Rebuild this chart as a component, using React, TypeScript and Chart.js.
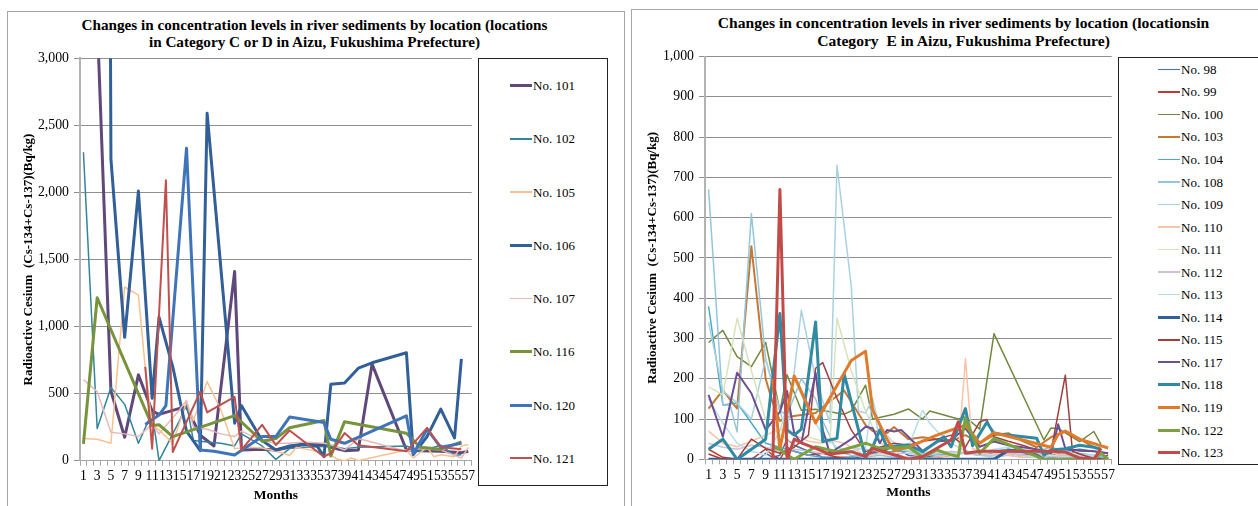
import React, { useEffect, useRef } from "react";
import { Chart, registerables } from "chart.js";
Chart.register(...registerables);

type Pt = [number, number];

const FONT = "'Liberation Serif', 'Times New Roman', serif";

const MONTHS = [
  "1", "2", "3", "4", "5", "6", "7", "8", "9", "10", "11", "12", "13", "14", "15", "16", "17", "18", "19",
  "20", "21", "22", "23", "24", "25", "26", "27", "28", "29", "30", "31", "32", "33", "34", "35", "36", "37", "38",
  "39", "40", "41", "42", "43", "44", "45", "46", "47", "48", "49", "50", "51", "52", "53", "54", "55", "56", "57",
];

const LEFT_TICKS = [0, 500, 1000, 1500, 2000, 2500, 3000];
const RIGHT_TICKS = [0, 100, 200, 300, 400, 500, 600, 700, 800, 900, 1000];

// ---------- Left chart (Category C or D) : [month, Bq/kg] ----------
const no101: Pt[] = [[3, 3300], [5, 520], [7, 175], [9, 640], [11, 370], [12, 345], [15, 390], [16, 400], [18, 190], [20, 110], [23, 1410], [24, 80], [27, 85], [29, 80], [31, 100], [33, 120], [36, 120], [37, 100], [39, 75], [41, 80], [43, 720], [48, 80], [50, 75], [53, 70], [56, 60], [57, 70]];
const no102: Pt[] = [[1, 2300], [3, 240], [5, 545], [7, 420], [9, 130], [11, 360], [12, 0], [15, 300], [16, 425], [17, 150], [19, 140], [21, 130], [23, 110], [24, 200], [27, 110], [29, 10], [31, 90], [33, 100], [36, 105], [37, 110], [39, 90], [41, 100], [48, 110], [50, 70], [53, 115], [55, 40], [56, 45]];
const no105: Pt[] = [[1, 165], [3, 160], [5, 130], [7, 1295], [9, 1235], [10, 690], [11, 270], [12, 230], [14, 130], [16, 440], [17, 300], [19, 590], [21, 380], [23, 90], [25, 100], [27, 95], [29, 70], [31, 40], [32, 100], [33, 90], [36, 60], [37, 40], [38, 10], [39, 0], [40, 20], [41, 0], [48, 80], [49, 20], [51, 100], [52, 30], [53, 45], [55, 30], [56, 110], [57, 120]];
const no106: Pt[] = [[4, 15000], [5, 2250], [7, 920], [9, 2010], [11, 465], [12, 1070], [14, 700], [16, 220], [18, 75], [19, 2590], [23, 280], [24, 410], [27, 150], [29, 80], [31, 110], [33, 125], [35, 110], [36, 30], [37, 570], [39, 580], [41, 690], [43, 730], [48, 805], [49, 45], [51, 180], [53, 385], [55, 170], [56, 760]];
const no107: Pt[] = [[1, 605], [3, 515], [5, 212], [7, 200], [9, 180], [11, 270], [12, 200], [15, 380], [16, 450], [17, 250], [19, 235], [21, 200], [23, 180], [24, 220], [27, 150], [29, 130], [31, 130], [33, 140], [36, 130], [37, 120], [39, 80], [41, 165], [48, 70], [50, 90], [53, 80], [55, 40], [56, 20], [57, 100]];
const no116: Pt[] = [[1, 125], [3, 1215], [11, 262], [12, 268], [14, 180], [23, 336], [27, 145], [29, 165], [31, 246], [36, 300], [37, 35], [39, 291], [48, 205], [50, 100], [53, 85], [56, 140]];
const no120: Pt[] = [[10, 270], [12, 340], [13, 410], [16, 2330], [18, 80], [20, 70], [23, 42], [27, 180], [29, 180], [31, 325], [36, 285], [37, 160], [39, 130], [48, 335], [49, 50], [51, 235], [53, 100], [55, 120], [56, 130]];
const no121: Pt[] = [[10, 700], [11, 90], [13, 2090], [14, 65], [18, 515], [19, 360], [23, 475], [24, 80], [27, 267], [29, 117], [31, 225], [36, 30], [37, 55], [39, 206], [41, 115], [48, 70], [51, 245], [53, 100], [56, 85]];

const LEFT_LABELS = ["No. 101", "No. 102", "No. 105", "No. 106", "No. 107", "No. 116", "No. 120", "No. 121"];
const LEFT_VALUES = [no101, no102, no105, no106, no107, no116, no120, no121];

// ---------- Right chart (Category E) ----------
const no98: Pt[] = [[1, 0], [5, 0], [8, 0], [9, 15], [10, 5], [11, 10], [12, 50], [13, 35], [15, 20], [17, 5], [19, 5], [21, 0], [23, 10], [25, 20], [27, 30], [29, 10], [31, 5], [33, 10], [35, 15], [37, 20], [39, 10], [41, 15], [43, 25], [45, 20], [47, 15], [49, 10], [51, 20], [53, 25], [55, 20], [57, 15]];
const no99: Pt[] = [[1, 25], [3, 5], [5, 0], [7, 0], [9, 25], [10, 10], [11, 0], [12, 30], [13, 20], [15, 10], [17, 15], [19, 5], [21, 5], [23, 10], [25, 25], [27, 15], [29, 0], [31, 0], [33, 5], [35, 10], [37, 20], [39, 15], [41, 20], [43, 15], [45, 10], [47, 15], [49, 20], [51, 15], [53, 5], [55, 0], [57, 10]];
const no100: Pt[] = [[1, 290], [3, 320], [5, 255], [7, 230], [9, 290], [11, 120], [12, 210], [14, 122], [16, 124], [18, 118], [20, 112], [21, 120], [23, 184], [24, 100], [27, 112], [29, 125], [31, 100], [32, 120], [36, 100], [37, 105], [39, 75], [41, 312], [48, 48], [49, 78], [50, 76], [53, 44], [55, 69], [56, 37]];
const no103: Pt[] = [[1, 126], [3, 172], [5, 126], [7, 529], [9, 200], [10, 140], [11, 95], [12, 105], [14, 110], [16, 115], [17, 130], [20, 171], [23, 85], [24, 70], [26, 65], [27, 80], [29, 50], [31, 55], [33, 50], [35, 45], [37, 60], [39, 40], [41, 60], [43, 65], [45, 45], [47, 30], [49, 55], [51, 70], [53, 50], [55, 30]];
const no104: Pt[] = [[1, 380], [3, 135], [5, 140], [7, 90], [9, 40], [11, 30], [13, 20], [15, 10], [17, 5], [19, 0], [21, 5], [23, 10], [25, 15], [27, 20], [29, 20], [31, 15], [33, 10], [35, 10], [37, 20], [39, 15], [41, 20], [43, 25], [45, 20], [47, 15], [49, 5], [51, 10], [53, 10], [55, 5], [57, 5]];
const no108: Pt[] = [[1, 670], [3, 135], [4, 135], [5, 68], [7, 610], [9, 250], [11, 120], [12, 110], [14, 200], [16, 150], [17, 95], [19, 20], [21, 10], [23, 5], [25, 10], [27, 5], [29, 5], [31, 10], [33, 15], [35, 15], [37, 15], [39, 10], [41, 20], [43, 20], [45, 15], [47, 20], [49, 30], [51, 20], [53, 15], [55, 10], [57, 5]];
const no109: Pt[] = [[1, 340], [3, 170], [5, 140], [7, 100], [9, 250], [10, 180], [12, 60], [14, 370], [16, 200], [18, 90], [19, 730], [21, 430], [22, 120], [23, 115], [24, 150], [25, 40], [27, 30], [29, 20], [31, 15], [33, 10], [35, 10], [37, 15], [39, 10], [41, 5], [43, 10], [45, 5], [47, 5], [49, 10], [51, 5], [53, 5], [55, 5], [57, 0]];
const no110: Pt[] = [[1, 70], [3, 40], [5, 31], [7, 45], [9, 60], [11, 75], [13, 60], [15, 45], [17, 40], [18, 48], [20, 40], [22, 20], [23, 7], [25, 15], [27, 10], [29, 5], [31, 0], [33, 5], [35, 10], [36, 15], [37, 250], [38, 27], [39, 20], [41, 15], [43, 10], [45, 5], [47, 10], [49, 15], [51, 10], [53, 5], [55, 5]];
const no111: Pt[] = [[1, 180], [3, 160], [5, 350], [7, 220], [9, 98], [11, 60], [13, 40], [15, 55], [17, 45], [18, 40], [19, 350], [21, 220], [23, 120], [25, 40], [27, 30], [29, 25], [31, 20], [33, 15], [35, 15], [37, 20], [39, 15], [41, 10], [43, 15], [45, 10], [47, 5], [49, 10], [51, 5], [53, 5], [55, 5]];
const no112: Pt[] = [[1, 40], [3, 30], [5, 25], [7, 35], [9, 30], [11, 20], [13, 25], [15, 20], [17, 15], [19, 20], [21, 30], [23, 25], [25, 20], [27, 15], [29, 15], [31, 10], [33, 15], [35, 20], [37, 15], [39, 10], [41, 10], [43, 15], [45, 10], [47, 10], [49, 5], [51, 10], [53, 5], [55, 5]];
const no113: Pt[] = [[1, 150], [3, 90], [5, 40], [7, 20], [9, 10], [11, 70], [13, 200], [15, 120], [17, 60], [19, 30], [21, 20], [23, 30], [24, 150], [25, 80], [27, 40], [29, 30], [31, 122], [32, 90], [33, 70], [35, 40], [37, 20], [39, 15], [41, 25], [43, 30], [45, 25], [47, 15], [49, 20], [51, 15], [53, 10], [55, 10]];
const no114: Pt[] = [[1, 0], [41, 0], [43, 22], [45, 20], [47, 10], [48, 0], [53, 0], [55, 0], [56, 0]];
const no115: Pt[] = [[1, 13], [3, 0], [5, 0], [7, 50], [9, 27], [11, 15], [13, 30], [15, 60], [16, 226], [17, 240], [19, 151], [21, 73], [23, 19], [25, 30], [27, 40], [29, 35], [31, 45], [33, 50], [35, 60], [37, 30], [39, 93], [40, 99], [41, 56], [43, 45], [45, 35], [47, 23], [49, 20], [51, 209], [52, 20], [53, 13], [55, 2], [57, 0]];
const no117: Pt[] = [[1, 160], [3, 56], [5, 215], [7, 164], [9, 73], [11, 118], [12, 170], [13, 64], [14, 40], [16, 215], [17, 73], [18, 15], [21, 50], [23, 81], [24, 77], [25, 40], [26, 73], [27, 69], [28, 73], [29, 56], [31, 21], [33, 44], [35, 48], [37, 77], [39, 31], [41, 44], [43, 35], [45, 30], [47, 25], [49, 15], [50, 87], [51, 27], [53, 21], [55, 20], [57, 15]];
const no118: Pt[] = [[1, 25], [3, 50], [5, 0], [9, 50], [11, 362], [12, 73], [13, 60], [14, 75], [16, 341], [17, 44], [19, 52], [20, 212], [23, 5], [24, 31], [25, 73], [26, 30], [29, 36], [31, 19], [34, 56], [35, 31], [37, 126], [38, 34], [40, 92], [41, 64], [47, 52], [48, 10], [49, 23], [51, 26], [53, 35], [55, 30], [56, 25]];
const no119: Pt[] = [[10, 200], [11, 25], [13, 207], [16, 90], [21, 245], [23, 268], [24, 122], [26, 50], [27, 22], [29, 30], [31, 45], [33, 60], [37, 85], [39, 40], [41, 66], [49, 30], [50, 62], [51, 70], [53, 50], [57, 28]];
const no122: Pt[] = [[10, 30], [11, 25], [12, 11], [13, 0], [16, 31], [19, 19], [23, 40], [25, 27], [29, 31], [31, 5], [33, 23], [35, 11], [36, 7], [37, 102], [39, 15], [41, 52], [47, 7], [48, 0], [55, 0], [56, 15], [57, 0]];
const no123: Pt[] = [[10, 0], [11, 670], [12, 0], [13, 50], [14, 41], [16, 27], [18, 13], [21, 19], [23, 7], [24, 27], [29, 0], [31, 7], [35, 48], [36, 93], [37, 15], [39, 20], [48, 20], [49, 20], [51, 18], [53, 3], [55, 0], [56, 27]];

const RIGHT_LABELS = ["No. 98", "No. 99", "No. 100", "No. 103", "No. 104", "No. 108", "No. 109", "No. 110", "No. 111", "No. 112", "No. 113", "No. 114", "No. 115", "No. 117", "No. 118", "No. 119", "No. 122", "No. 123"];
const RIGHT_VALUES = [no98, no99, no100, no103, no104, no108, no109, no110, no111, no112, no113, no114, no115, no117, no118, no119, no122, no123];

// ---------- styles (kept apart from data) ----------
type Sty = { color: string; width: number };
const LEFT_STYLES: Sty[] = [
  { color: "#5F497A", width: 3 },
  { color: "#31859C", width: 1.5 },
  { color: "#FAC090", width: 1.5 },
  { color: "#315F97", width: 3 },
  { color: "#E6B9B8", width: 1.5 },
  { color: "#77933C", width: 3 },
  { color: "#4074B8", width: 3 },
  { color: "#C0504D", width: 2 },
];
const RIGHT_STYLES: Sty[] = [
  { color: "#4A6FA0", width: 1.5 },
  { color: "#B83B36", width: 1.5 },
  { color: "#71893F", width: 1.5 },
  { color: "#C47834", width: 2 },
  { color: "#4BACC6", width: 1.5 },
  { color: "#93C6DA", width: 1.5 },
  { color: "#A9D1DF", width: 1.5 },
  { color: "#F9C3A7", width: 1.5 },
  { color: "#D6E3BC", width: 1.5 },
  { color: "#CCC0DA", width: 1.5 },
  { color: "#B7DDE8", width: 1.5 },
  { color: "#30609A", width: 3 },
  { color: "#A23E3B", width: 1.5 },
  { color: "#6B4E94", width: 2 },
  { color: "#2F8AA3", width: 3 },
  { color: "#E17B2C", width: 3 },
  { color: "#7BA23F", width: 3 },
  { color: "#C24B48", width: 3 },
];

type Area = { left: number; top: number; right: number; bottom: number };

function LineChart(props: {
  labels: string[]; values: Pt[][]; styles: Sty[]; ticks: number[];
  x: number; y: number; width: number; height: number; area: Area;
  yTitlePad: number; xTickPad: number; xTitlePad: number;
}) {
  const ref = useRef<HTMLCanvasElement>(null);
  useEffect(() => {
    const p = props;
    const n = p.values.length;
    const yMax = p.ticks[p.ticks.length - 1];
    const step = p.ticks[1] - p.ticks[0];
    const chart = new Chart(ref.current as HTMLCanvasElement, {
      type: "line",
      data: {
        labels: MONTHS,
        datasets: p.values.map((pts, i) => ({
          label: p.labels[i],
          data: pts.map(([m, v]) => ({ x: String(m), y: v })),
          borderColor: p.styles[i].color,
          backgroundColor: p.styles[i].color,
          borderWidth: p.styles[i].width,
          pointRadius: 0,
          tension: 0,
          fill: false,
          order: n - i,
          borderJoinStyle: "round",
        })) as any,
      },
      options: {
        responsive: false,
        animation: false,
        events: [],
        layout: { padding: { left: 0, top: p.area.top, right: p.width - p.area.right, bottom: 0 } },
        plugins: { legend: { display: false }, title: { display: false }, tooltip: { enabled: false } },
        scales: {
          x: {
            type: "category",
            offset: true,
            afterFit: (s: any) => { s.height = p.height - p.area.bottom; },
            grid: { display: true, drawOnChartArea: false, drawTicks: true, tickLength: 5, color: "#a6a6a6", offset: true },
            border: { display: true, color: "#a6a6a6", width: 1 },
            ticks: {
              autoSkip: false, maxRotation: 0, minRotation: 0, padding: p.xTickPad, color: "#000",
              font: { size: 13.6, family: FONT },
              callback: (_v: any, i: number) => (i % 2 === 0 ? MONTHS[i] : ""),
            },
            title: { display: true, text: "Months", color: "#000", font: { size: 13.5, weight: "bold", family: FONT }, padding: { top: 0, bottom: p.xTitlePad } },
          },
          y: {
            min: 0,
            max: yMax,
            afterFit: (s: any) => { s.width = p.area.left; },
            ticks: {
              stepSize: step, color: "#000", padding: 5, font: { size: 13.8, family: FONT },
              callback: (v: any) => Number(v).toLocaleString("en-US"),
            },
            grid: { color: "#8f8f8f", lineWidth: 1, drawTicks: true, tickLength: 6 },
            border: { display: true, color: "#b3b3b3", width: 2 },
            title: {
              display: true, text: "Radioactive Cesium  (Cs-134+Cs-137)(Bq/kg)", color: "#000",
              font: { size: 13, weight: "bold", family: FONT }, padding: { top: p.yTitlePad, bottom: 0 },
            },
          },
        },
      } as any,
    });
    return () => chart.destroy();
  }, []);
  return (
    <canvas ref={ref} width={props.width} height={props.height}
      style={{ position: "absolute", left: props.x, top: props.y, width: props.width, height: props.height }} />
  );
}

function Legend(props: { labels: string[]; styles: Sty[]; left: number; top: number; width: number; height: number; padLeft: number }) {
  return (
    <div style={{
      position: "absolute", left: props.left, top: props.top, width: props.width, height: props.height,
      boxSizing: "border-box", border: "1px solid #222", background: "#fff",
      display: "flex", flexDirection: "column", justifyContent: "space-around", paddingLeft: props.padLeft,
    }}>
      {props.labels.map((lab, i) => (
        <div key={lab} style={{ display: "flex", alignItems: "center", height: 15 }}>
          <span style={{ display: "inline-block", width: 22, height: props.styles[i].width, background: props.styles[i].color, marginRight: 1 }} />
          <span style={{ fontFamily: FONT, fontSize: 13, color: "#000", whiteSpace: "nowrap", lineHeight: "15px" }}>{lab}</span>
        </div>
      ))}
    </div>
  );
}

export default function App() {
  const titleStyle: React.CSSProperties = {
    position: "absolute", width: 620, textAlign: "center", fontFamily: FONT, fontWeight: "bold",
    color: "#000", whiteSpace: "pre",
  };
  return (
    <div style={{ position: "absolute", left: 0, top: 0, width: 1258, height: 506, overflow: "hidden", background: "#fff" }}>
      {/* left panel */}
      <div style={{ position: "absolute", left: 7, top: 11, width: 618, height: 520, boxSizing: "border-box", border: "1px solid #a6a6a6" }} />
      <div style={{ ...titleStyle, left: 314.5 - 310, top: 15.5, fontSize: 15.2, lineHeight: "17px" }}>
        {"Changes in concentration levels in river sediments by location (locations\nin Category C or D in Aizu, Fukushima Prefecture)"}
      </div>
      <LineChart labels={LEFT_LABELS} values={LEFT_VALUES} styles={LEFT_STYLES} ticks={LEFT_TICKS}
        x={7} y={13} width={615} height={493}
        area={{ left: 73, top: 45.3, right: 464.7, bottom: 447.7 }}
        yTitlePad={14} xTickPad={3} xTitlePad={2} />
      <Legend labels={LEFT_LABELS} styles={LEFT_STYLES} left={478} top={58} width={130} height={428} padLeft={31} />

      {/* right panel */}
      <div style={{ position: "absolute", left: 631, top: 9, width: 700, height: 520, boxSizing: "border-box", border: "1px solid #a6a6a6" }} />
      <div style={{ ...titleStyle, left: 963.5 - 310, top: 13.5, fontSize: 15.6, lineHeight: "18px" }}>
        {"Changes in concentration levels in river sediments by location (locationsin\nCategory  E in Aizu, Fukushima Prefecture)"}
      </div>
      <LineChart labels={RIGHT_LABELS} values={RIGHT_VALUES} styles={RIGHT_STYLES} ticks={RIGHT_TICKS}
        x={631} y={10} width={627} height={496}
        area={{ left: 74, top: 46.5, right: 480.7, bottom: 449.3 }}
        yTitlePad={14} xTickPad={3} xTitlePad={5} />
      <Legend labels={RIGHT_LABELS} styles={RIGHT_STYLES} left={1118} top={57} width={200} height={408} padLeft={39} />
    </div>
  );
}
